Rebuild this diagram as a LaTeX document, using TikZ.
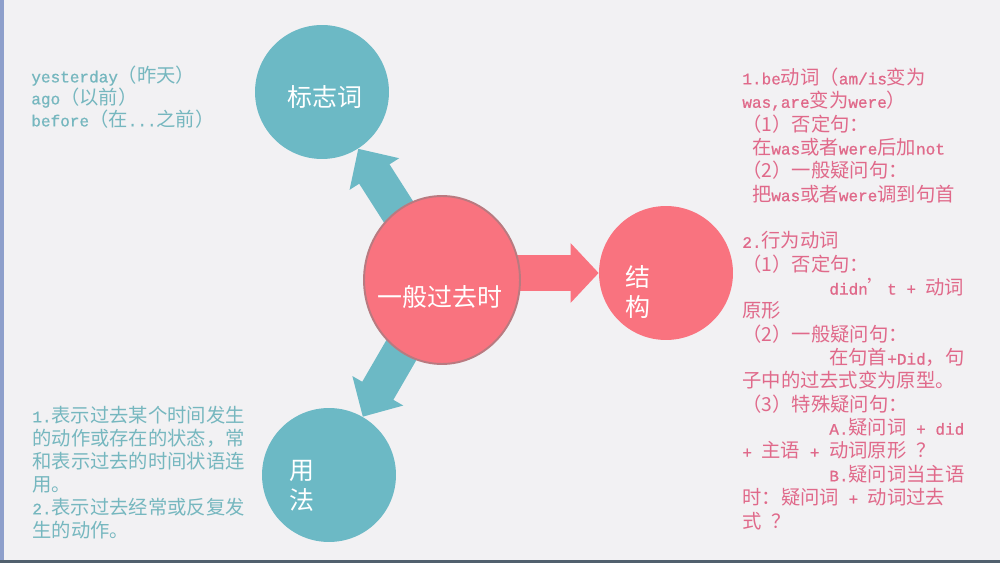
\documentclass[tikz,border=0pt]{standalone}
\usepackage{fontspec}
\setmainfont{Noto Sans CJK SC}
\newfontfamily\ascfont[Scale=0.83,FakeBold=0.8]{Liberation Mono}
\newcommand\asc[1]{{\ascfont #1}}
\usetikzlibrary{arrows.meta,shapes.geometric}
\definecolor{bg}{HTML}{F2F1F3}
\definecolor{teal1}{HTML}{6CB9C5}
\definecolor{pink1}{HTML}{F9737F}
\definecolor{pinkedge}{HTML}{B97A80}
\definecolor{tealtext}{HTML}{76B7BF}
\definecolor{pinktext}{HTML}{E0698A}
\definecolor{edgeblue}{HTML}{8E9FCB}
\definecolor{bottombar}{HTML}{51606E}
\pgfdeclarelayer{back}
\pgfdeclarelayer{arr}
\pgfsetlayers{back,arr,main}
\begin{document}
\begin{tikzpicture}[x=0.02cm, y=-0.02cm,
  circ/.style={circle, inner sep=0pt, minimum size=2.68cm},
  tealcirc/.style={circ, fill=teal1},
  pinkcirc/.style={circ, fill=pink1},
  clabel/.style={inner sep=0pt, text=white, align=center,
    font=\fontsize{14.2}{17}\selectfont},
  txt/.style={anchor=west, inner sep=0pt, text height=9.7pt, text depth=1.3pt,
    font=\fontsize{11}{13}\selectfont},
  ltext/.style={txt, text=tealtext},
  rtext/.style={txt, text=pinktext},
  tealarrow/.style={draw=teal1, line width=0.72cm,
    -{Triangle[length=0.6cm, width=1.14cm]}},
  pinkarrow/.style={draw=pink1, line width=0.72cm,
    -{Triangle[length=0.56cm, width=1.16cm]}}]
\useasboundingbox (0,0) rectangle (1000,563);
\begin{pgfonlayer}{back}
  \fill[bg] (0,0) rectangle (1000,563);
  \fill[edgeblue] (0,0) rectangle (4,563);
  \fill[bottombar] (0,560) rectangle (1000,563);
\end{pgfonlayer}

% circles
\node[tealcirc] (bzc) at (322,92) {};
\node[tealcirc] (yf) at (329,475) {};
\node[pinkcirc] (jg) at (666,273) {};
\node[ellipse, inner sep=0pt, minimum width=3.12cm, minimum height=3.36cm,
  fill=pink1, draw=pinkedge, line width=1.1pt] (c) at (442,280) {};

% labels in circles
\node[clabel] (lbzc) at (325,97) {标志词};
\node[clabel] (lc) at (440,297) {一般过去时};
\node[clabel] (ljg) at (638,292) {结\\构};
\node[clabel] (lyf) at (302,486) {用\\法};

% arrows
\begin{pgfonlayer}{arr}
  \draw[tealarrow] (c.center) -- (bzc);
  \draw[tealarrow] (c.center) -- (yf);
  \draw[pinkarrow] (jg.west -| c.center) -- (jg.west);
\end{pgfonlayer}

% top-left text
\node[ltext] (a1) at (31,75) {\asc{yesterday}（昨天）};
\node[ltext] (a2) at (31,97) {\asc{ago}（以前）};
\node[ltext] (a3) at (31,119) {\asc{before}（在\asc{...}之前）};

% bottom-left text
\node[ltext] (b1) at (32,415) {\asc{1.}表示过去某个时间发生};
\node[ltext] (b2) at (32,438) {的动作或存在的状态，常};
\node[ltext] (b3) at (32,461) {和表示过去的时间状语连};
\node[ltext] (b4) at (32,484) {用。};
\node[ltext] (b5) at (32,507) {\asc{2.}表示过去经常或反复发};
\node[ltext] (b6) at (32,530) {生的动作。};

% right text
\node[rtext] (r1) at (742,77) {\asc{1.be}动词（\asc{am/is}变为};
\node[rtext] (r2) at (742,100.4) {\asc{was,are}变为\asc{were}）};
\node[rtext] (r3) at (742,123.7) {（1）否定句：};
\node[rtext] (r4) at (742,147.1) {\hspace*{0.5em}在\asc{was}或者\asc{were}后加\asc{not}};
\node[rtext] (r5) at (742,170.4) {（2）一般疑问句：};
\node[rtext] (r6) at (742,193.8) {\hspace*{0.5em}把\asc{was}或者\asc{were}调到句首};
\node[rtext] (r8) at (742,240.5) {\asc{2.}行为动词};
\node[rtext] (r9) at (742,263.8) {（1）否定句：};
\node[rtext] (r10) at (742,287.2) {\hspace*{4.5em}\asc{didn}\makebox[1em]{’}\asc{t + }动词};
\node[rtext] (r11) at (742,310.5) {原形};
\node[rtext] (r12) at (742,333.9) {（2）一般疑问句：};
\node[rtext] (r13) at (742,357.2) {\hspace*{4.5em}在句首\asc{+Did}，句};
\node[rtext] (r14) at (742,380.6) {子中的过去式变为原型。};
\node[rtext] (r15) at (742,403.9) {（3）特殊疑问句：};
\node[rtext] (r16) at (742,427.3) {\hspace*{4.5em}\asc{A.}疑问词\asc{ + did}};
\node[rtext] (r17) at (742,450.6) {\asc{+ }主语\asc{ + }动词原形\asc{ }？};
\node[rtext] (r18) at (742,474) {\hspace*{4.5em}\asc{B.}疑问词当主语};
\node[rtext] (r19) at (742,497.3) {时：疑问词\asc{ + }动词过去};
\node[rtext] (r20) at (742,520.7) {式\asc{ }？};
\end{tikzpicture}
\end{document}
